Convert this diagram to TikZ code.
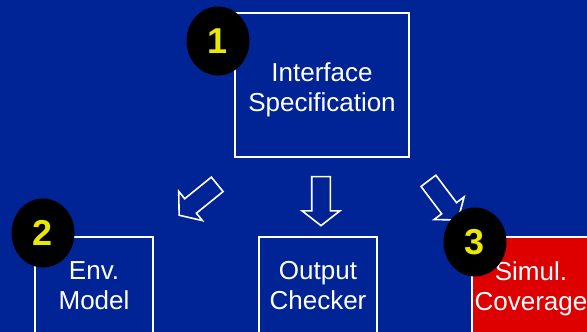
\documentclass[tikz,border=0pt]{standalone}
\usepackage{fontspec}
\setmainfont{Liberation Sans}
\usetikzlibrary{shapes.arrows,shapes.geometric}
\definecolor{slideblue}{RGB}{0,35,150}
\definecolor{alertred}{RGB}{222,0,0}
\definecolor{numyellow}{RGB}{232,232,0}
\begin{document}
\begin{tikzpicture}[x=1pt,y=-1pt,
  block/.style={draw=white, line width=2pt, inner sep=0pt},
  boxtext/.style={text=white, align=center, inner sep=0pt,
    font=\fontsize{26}{30}\selectfont},
  blockarrow/.style={single arrow, draw=white, line width=1.6pt,
    fill=slideblue, minimum height=49pt, inner xsep=0pt, inner ysep=8.5pt,
    single arrow head extend=9.5pt, single arrow tip angle=104},
  badge/.style={ellipse, fill=black, minimum width=63pt, minimum height=69pt,
    inner sep=0pt, text=numyellow, font=\fontsize{36}{36}\selectfont\bfseries}]
  % canvas
  \useasboundingbox (0,0) rectangle (587,332);
  \clip (0,0) rectangle (587,332);
  \fill[slideblue] (0,0) rectangle (587,332);

  % boxes
  \node[block, minimum width=174pt, minimum height=144pt] (spec) at (322,85) {};
  \node[block, minimum width=118pt, minimum height=130pt] (env) at (94,302) {};
  \node[block, minimum width=118pt, minimum height=130pt] (chk) at (318,302) {};
  \node[block, fill=alertred, minimum width=120pt, minimum height=130pt] (cov) at (532,302) {};

  % box labels
  \node[boxtext] (spectext) at (322,89.5) {Interface\\Specification};
  \node[boxtext] (envtext) at (94,286) {Env.\\Model};
  \node[boxtext] (chktext) at (318,286) {Output\\Checker};
  \node[boxtext] (covtext) at (531,288.5) {Simul.\\Coverage};

  % refinement arrows
  \node[blockarrow, rotate=-141] (toenv) at (201,197.5) {};
  \node[blockarrow, rotate=-90] (tochk) at (321,197.5) {};
  \node[blockarrow, rotate=-53] (tocov) at (441,197.5) {};

  % step numbers
  \node[badge] (n1) at (218,41) {1};
  \node[badge] (n2) at (43,233) {2};
  \node[badge] (n3) at (475,242) {3};
\end{tikzpicture}
\end{document}
